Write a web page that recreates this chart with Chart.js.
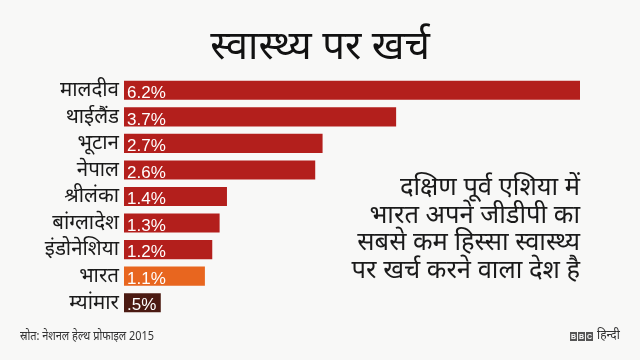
<html>
  <head>
    <script src="https://cdn.jsdelivr.net/npm/chart.js"></script>
    <style>
      body { margin: 0; background: #f8f8f7; font-family: "Noto Sans", "Noto Sans Devanagari", sans-serif; }
      #wrap { position: relative; width: 640px; height: 360px; overflow: hidden; }
      #spendChart { position: absolute; left: 0; top: 0; }
      #title { position: absolute; left: 0; width: 640px; top: 19px; text-align: center; font-size: 40px; line-height: 50px; color: #111; }
      #note { position: absolute; right: 60px; top: 172px; text-align: right; font-size: 25.5px; line-height: 27.5px; color: #1a1a1a; white-space: nowrap; }
      #source { position: absolute; left: 20px; top: 326px; font-size: 13px; color: #333; transform: scaleX(0.84); transform-origin: left top; white-space: nowrap; }
      #bbc { position: absolute; left: 570px; top: 326px; font-size: 12px; color: #333; white-space: nowrap; }
      #bbc span.b { display: inline-block; width: 7px; height: 9px; background: #555; color: #fff; font: bold 7px "Liberation Sans", sans-serif; text-align: center; line-height: 9px; margin-right: 1px; }
    </style>
    <script type="text/javascript">
      var countries = ["मालदीव", "थाईलैंड", "भूटान", "नेपाल", "श्रीलंका", "बांग्लादेश", "इंडोनेशिया", "भारत", "म्यांमार"];
      var gdpShare = [6.2, 3.7, 2.7, 2.6, 1.4, 1.3, 1.2, 1.1, 0.5];
      var valueLabels = ["6.2%", "3.7%", "2.7%", "2.6%", "1.4%", "1.3%", "1.2%", "1.1%", ".5%"];
      var barColors = ["#b31f1c", "#b31f1c", "#b31f1c", "#b31f1c", "#b31f1c", "#b31f1c", "#b31f1c", "#e8661f", "#4b1a12"];

      // white % text at the start of each bar
      var valueText = {
        id: 'valueText',
        afterDatasetsDraw: function (chart) {
          var ctx = chart.ctx;
          var meta = chart.getDatasetMeta(0);
          ctx.save();
          ctx.fillStyle = '#fff';
          ctx.font = '17px "Liberation Sans", Arial, sans-serif';
          ctx.textBaseline = 'middle';
          meta.data.forEach(function (bar, i) {
            ctx.fillText(valueLabels[i], bar.base + 3, bar.y + 3);
          });
          ctx.restore();
        }
      };

      function drawChart() {
        const ctx = document.getElementById('spendChart');
        new Chart(ctx, {
          type: 'bar',
          data: {
            labels: countries,
            datasets: [{
              data: gdpShare,
              backgroundColor: barColors,
              borderWidth: 0,
              barPercentage: 0.72,
              categoryPercentage: 1.0
            }]
          },
          plugins: [valueText],
          options: {
            indexAxis: 'y',
            responsive: false,
            animation: false,
            layout: { padding: { top: 77, bottom: 44, right: 60, left: 0 } },
            plugins: {
              legend: { display: false },
              tooltip: { enabled: false }
            },
            scales: {
              x: { display: false, min: 0, max: 6.2 },
              y: {
                afterFit: function (axis) { axis.width = 124; },
                grid: { display: false, drawTicks: false },
                border: { display: false },
                ticks: {
                  autoSkip: false,
                  padding: 5,
                  color: '#1a1a1a',
                  font: { size: 20.5, family: '"Noto Sans", "Noto Sans Devanagari", sans-serif' }
                }
              }
            }
          }
        });
      }

      window.onload = drawChart;
    </script>
  </head>
  <body>
    <div id="wrap">
      <canvas id="spendChart" width="640" height="360"></canvas>
      <div id="title">स्वास्थ्य पर खर्च</div>
      <div id="note">दक्षिण पूर्व एशिया में<br>भारत अपने जीडीपी का<br>सबसे कम हिस्सा स्वास्थ्य<br>पर खर्च करने वाला देश है</div>
      <div id="source">स्रोत: नेशनल हेल्थ प्रोफाइल 2015</div>
      <div id="bbc"><span class="b">B</span><span class="b">B</span><span class="b">C</span> हिन्दी</div>
    </div>
  </body>
</html>
